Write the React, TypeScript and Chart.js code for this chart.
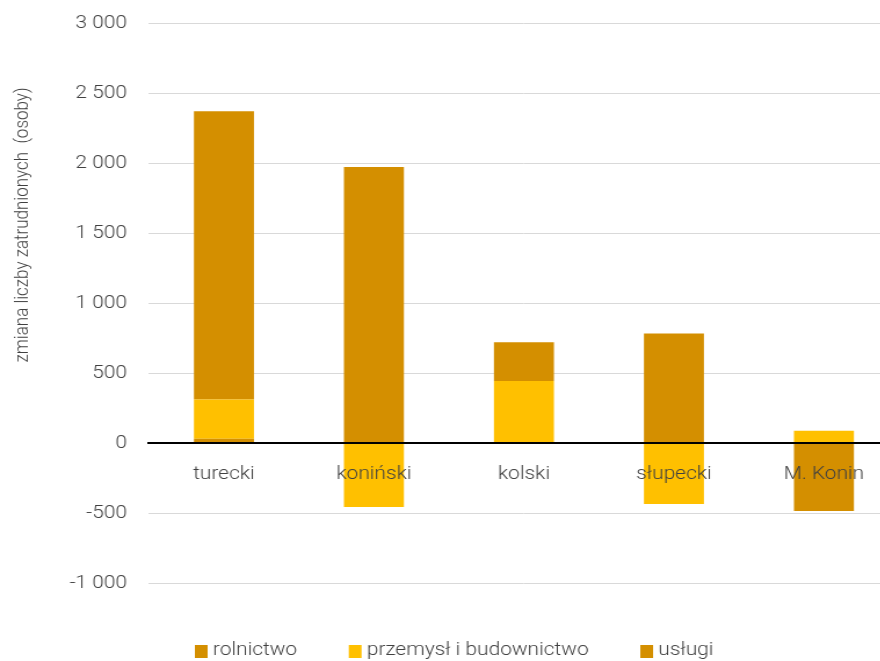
import { useEffect, useRef } from 'react';
import { Chart, registerables } from 'chart.js';

Chart.register(...registerables);

// Powiaty (districts) of the Konin subregion
const categories = ['turecki', 'koniński', 'kolski', 'słupecki', 'M. Konin'];

// Change in the number of employed persons by sector
const rolnictwo = [30, 0, 0, 0, 0];
const przemysl = [280, -457, 443, -436, 88];
const uslugi = [2060, 1971, 277, 783, -486];

const seriesNames = ['rolnictwo', 'przemysł i budownictwo', 'usługi'];
const seriesColors = ['#D48F00', '#FFC000', '#D48F00'];

const yMin = -1000;
const yMax = 3000;
const yStep = 500;
const yTitle = 'zmiana liczby zatrudnionych  (osoby)';

// The chart is drawn on a narrower canvas and widened with CSS,
// which gives the slightly broad lettering of the layout.
const STRETCH = 1.16;
const CANVAS_W = 788;
const CANVAS_H = 661;

const FONT_FAMILY = 'Roboto, "Noto Sans", sans-serif';
const FONT_SIZE = 18;
const TITLE_SIZE = 17;
const FONT_WEIGHT = 300;
const TEXT_COLOR = '#404040';

const formatThousands = (v: number) => {
  const s = Math.abs(v).toString().replace(/\B(?=(\d{3})+(?!\d))/g, ' ');
  return v < 0 ? '-' + s : s;
};

// Rotated axis title on the left side
const yTitlePlugin = {
  id: 'yTitleText',
  afterDraw(chart: any) {
    const { ctx } = chart;
    ctx.save();
    ctx.font = `${FONT_WEIGHT} ${TITLE_SIZE}px ${FONT_FAMILY}`;
    ctx.fillStyle = TEXT_COLOR;
    ctx.translate(19.5, 225);
    ctx.rotate(-Math.PI / 2);
    ctx.textAlign = 'center';
    ctx.textBaseline = 'middle';
    ctx.fillText(yTitle, 0, 0);
    ctx.restore();
  },
};

// Legend row at the bottom with wide gaps between entries
const legendRowPlugin = {
  id: 'legendRow',
  afterDraw(chart: any) {
    const { ctx } = chart;
    const boxW = 11;
    const boxH = 13;
    const boxGap = 4.5;
    const itemGap = 44.5;
    const startX = 168;
    const centerY = 651;
    ctx.save();
    ctx.font = `${FONT_WEIGHT} ${FONT_SIZE}px ${FONT_FAMILY}`;
    ctx.textBaseline = 'middle';
    ctx.textAlign = 'left';
    let x = startX;
    for (const ds of chart.data.datasets) {
      const label = ds.label as string;
      const w = ctx.measureText(label).width;
      ctx.fillStyle = ds.backgroundColor as string;
      ctx.fillRect(x, Math.round(centerY - boxH / 2), boxW, boxH);
      ctx.fillStyle = TEXT_COLOR;
      ctx.fillText(label, x + boxW + boxGap, centerY - 1);
      x += boxW + boxGap + w + itemGap;
    }
    ctx.restore();
  },
};

export default function App() {
  const canvasRef = useRef<HTMLCanvasElement | null>(null);

  useEffect(() => {
    if (!canvasRef.current) return;
    const font = { family: FONT_FAMILY, size: FONT_SIZE, weight: FONT_WEIGHT as any };
    const values = [rolnictwo, przemysl, uslugi];
    const chart = new Chart(canvasRef.current, {
      type: 'bar',
      data: {
        labels: categories,
        datasets: seriesNames.map((name, i) => ({
          label: name,
          data: values[i],
          backgroundColor: seriesColors[i],
          borderWidth: 0,
          categoryPercentage: 1,
          barPercentage: 0.4,
        })),
      },
      options: {
        responsive: false,
        animation: false,
        devicePixelRatio: 1,
        layout: { padding: { left: 0, right: 13, top: 23, bottom: 78 } },
        plugins: {
          legend: { display: false },
          tooltip: { enabled: false },
          title: { display: false },
        },
        scales: {
          x: {
            stacked: true,
            position: { y: 0 } as any,
            grid: { display: true, color: 'transparent', drawTicks: false },
            border: { display: true, color: '#000000', width: 2, z: 1 } as any,
            ticks: { color: TEXT_COLOR, font, padding: 21, maxRotation: 0, z: 1 },
          },
          y: {
            stacked: true,
            min: yMin,
            max: yMax,
            afterFit: (scale: any) => {
              scale.width = 128.4;
            },
            grid: {
              color: '#D9D9D9',
              lineWidth: 1,
              drawTicks: true,
              tickLength: 19,
              tickColor: 'transparent',
            },
            border: { display: false },
            ticks: {
              stepSize: yStep,
              color: TEXT_COLOR,
              font,
              padding: 0,
              callback: (v: any) => formatThousands(Number(v)),
            },
          },
        },
      },
      plugins: [yTitlePlugin, legendRowPlugin],
    });
    return () => chart.destroy();
  }, []);

  return (
    <div
      style={{
        position: 'fixed',
        left: 0,
        top: 0,
        width: 880,
        height: 661,
        overflow: 'hidden',
        background: '#ffffff',
      }}
    >
      <canvas
        ref={canvasRef}
        width={CANVAS_W}
        height={CANVAS_H}
        style={{ display: 'block', width: `${CANVAS_W * STRETCH}px`, height: `${CANVAS_H}px` }}
      />
    </div>
  );
}
